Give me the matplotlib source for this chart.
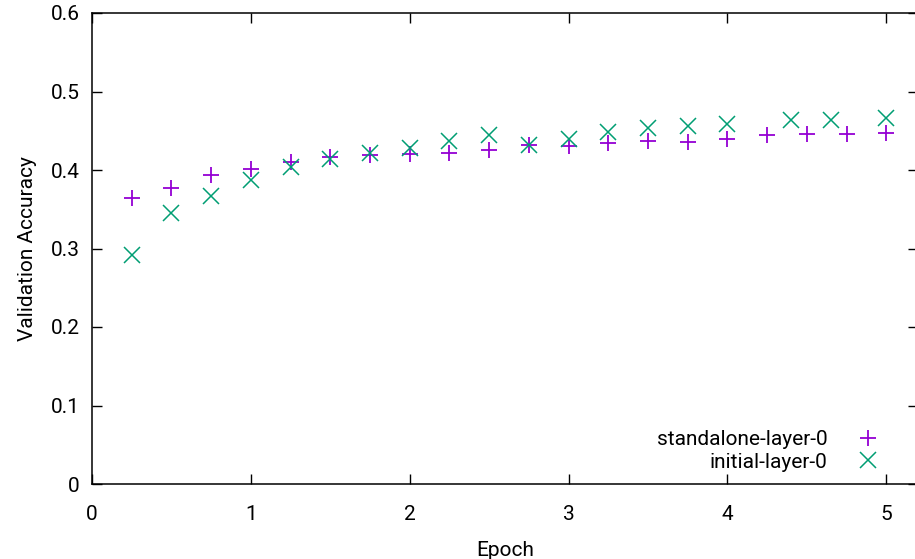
import matplotlib
matplotlib.use("Agg")
import matplotlib.pyplot as plt

plt.rcParams['font.family'] = ['Roboto', 'DejaVu Sans']

# standalone-layer-0 (purple +)
epoch_standalone = [0.25, 0.5, 0.75, 1.0, 1.25, 1.5, 1.75, 2.0, 2.25, 2.5,
                    2.75, 3.0, 3.25, 3.5, 3.75, 4.0, 4.25, 4.5, 4.75, 5.0]
acc_standalone = [0.364, 0.377, 0.393, 0.401, 0.410, 0.417, 0.419, 0.420, 0.422, 0.425,
                  0.432, 0.431, 0.435, 0.437, 0.436, 0.440, 0.444, 0.446, 0.446, 0.447]

# initial-layer-0 (green x)
epoch_initial = [0.25, 0.5, 0.75, 1.0, 1.25, 1.5, 1.75, 2.0, 2.25, 2.5,
                 2.75, 3.0, 3.25, 3.5, 3.75, 4.0, 4.4, 4.65, 5.0]
acc_initial = [0.292, 0.345, 0.367, 0.387, 0.404, 0.414, 0.422, 0.428, 0.437, 0.444,
               0.432, 0.440, 0.448, 0.454, 0.456, 0.459, 0.464, 0.464, 0.466]

x_ticks = [0, 1, 2, 3, 4, 5]
y_ticks = [0, 0.1, 0.2, 0.3, 0.4, 0.5, 0.6]

W, H = 915, 559
fig = plt.figure(figsize=(W / 100, H / 100), dpi=100)
ax = fig.add_axes([92 / W, 75 / H, (918 - 92) / W, 471 / H])

ax.plot(epoch_standalone, acc_standalone, linestyle='none', marker='+',
        markersize=12, markeredgewidth=1.3, color='#9400D3', label='standalone-layer-0')
ax.plot(epoch_initial, acc_initial, linestyle='none', marker='x',
        markersize=11.5, markeredgewidth=1.1, color='#009E73', label='initial-layer-0')

ax.set_xlim(0, 5.2)
ax.set_ylim(0, 0.6)
ax.set_xticks(x_ticks)
ax.set_xticklabels([str(t) for t in x_ticks])
ax.set_yticks(y_ticks)
ax.set_yticklabels(['0', '0.1', '0.2', '0.3', '0.4', '0.5', '0.6'])

fs = 15
ax.tick_params(direction='in', length=7, width=1, top=True, right=True,
               labelsize=fs, colors='black')
ax.tick_params(axis='x', pad=15)
ax.tick_params(axis='y', pad=9)
for s in ax.spines.values():
    s.set_linewidth(1.1)

ax.set_xlabel('Epoch', fontsize=fs, labelpad=12)
ax.set_ylabel('Validation Accuracy', fontsize=fs, labelpad=10)

leg = ax.legend(loc='lower right', bbox_to_anchor=(0.98, 0.0), frameon=False,
                markerfirst=False, fontsize=fs, handletextpad=0.95,
                labelspacing=0.15, handlelength=2.0, borderaxespad=0.2)

fig.savefig('out.png', dpi=100)
